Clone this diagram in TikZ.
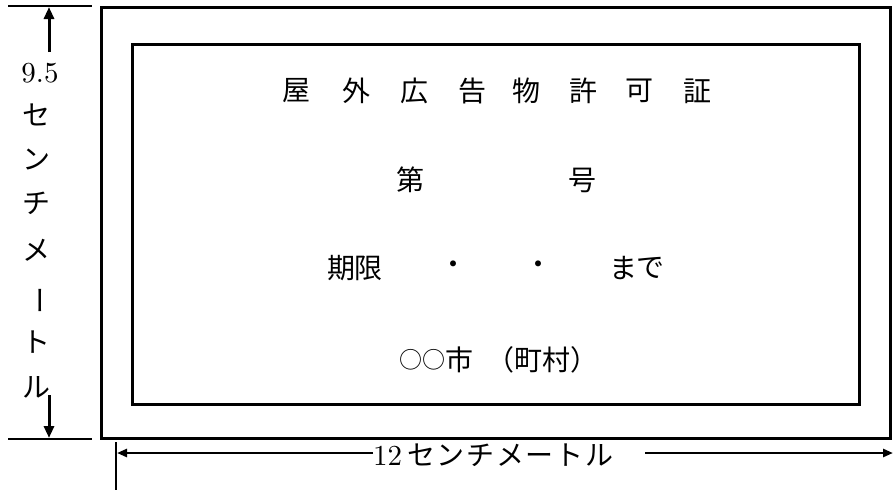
\documentclass[tikz,border=0pt]{standalone}
\usepackage{fontspec}
\usepackage{graphicx}
\newfontfamily\cjk{Noto Sans CJK JP}
\newfontfamily\cjkwide[LetterSpace=6]{Noto Sans CJK JP}
\usetikzlibrary{arrows.meta}
\newcommand{\bigdigits}[1]{\scalebox{2.9}{\normalsize #1}}
\begin{document}
\begin{tikzpicture}[x=1pt,y=-1pt,
  frame/.style={draw=black,line width=3pt},
  tick/.style={draw=black,line width=1.3pt},
  dim/.style={draw=black,line width=3pt,-{Triangle[length=12pt,width=10pt]}},
  dimh/.style={draw=black,line width=2.6pt,-{Triangle[length=10pt,width=8pt]}},
  jp/.style={inner sep=0pt,font=\cjk\fontsize{28}{28}\selectfont},
  circ/.style={inner sep=0pt,font=\cjk\fontsize{23}{23}\selectfont},
  lat/.style={inner sep=0pt}]
\useasboundingbox (0,0) rectangle (894,490);
% boxes
\node[frame,minimum width=789pt,minimum height=431pt,inner sep=0pt] (outer) at (496,223) {};
\node[frame,minimum width=727pt,minimum height=360pt,inner sep=0pt] (inner) at (495.5,224) {};
% title
\foreach \c/\x [count=\i] in {屋/296,外/356,広/414,告/472,物/526,許/583,可/639,証/697}
  \node[jp] (t\i) at (\x,91) {\c};
\node[jp] (dai) at (410,180) {第};
\node[jp] (go) at (582,180) {号};
\node[jp] (ki) at (341,268) {期};
\node[jp] (gen) at (368,268) {限};
\node[jp] (dot1) at (453,268) {・};
\node[jp] (dot2) at (538,268) {・};
\node[jp] (ma) at (623,268) {ま};
\node[jp] (de) at (650,268) {で};
\node[circ] (o1) at (411,360) {○};
\node[circ] (o2) at (434,360) {○};
\node[jp] (shi) at (459,360) {市};
\node[jp] (chou) at (542,360) {（町村）};
% vertical dimension
\coordinate (tl1) at (8,6);
\coordinate (tl2) at (92,6);
\coordinate (bl1) at (8,439);
\coordinate (bl2) at (92,439);
\draw[tick] (tl1) -- (tl2);
\draw[tick] (bl1) -- (bl2);
\coordinate (upS) at (49,52);
\coordinate (upE) at (49,7);
\coordinate (dnS) at (49,395);
\coordinate (dnE) at (49,438);
\draw[dim] (upS) -- (upE);
\draw[dim] (dnS) -- (dnE);
\node[lat] (v0) at (40,73) {\bigdigits{9.5}};
\foreach \c/\y [count=\i] in {セ/115,ン/160,チ/203,メ/250}
  \node[jp] (v\i) at (36,\y) {\c};
\node[jp,rotate=-90] (v5) at (36,300) {ー};
\node[jp] (v6) at (36,342) {ト};
\node[jp] (v7) at (36,387) {ル};
% horizontal dimension
\coordinate (vt1) at (116,442);
\coordinate (vt2) at (116,490);
\draw[tick] (vt1) -- (vt2);
\node[inner sep=0pt,anchor=west] (hlab) at (373,455)
  {\bigdigits{12}\hspace{5pt}{\cjkwide\fontsize{28}{28}\selectfont センチメートル}};
\coordinate (lE) at (117,453);
\coordinate (rS) at (645,453);
\coordinate (rE) at (893,453);
\draw[dimh] (hlab.west |- lE) -- (lE);
\draw[dimh] (rS) -- (rE);
\end{tikzpicture}
\end{document}
